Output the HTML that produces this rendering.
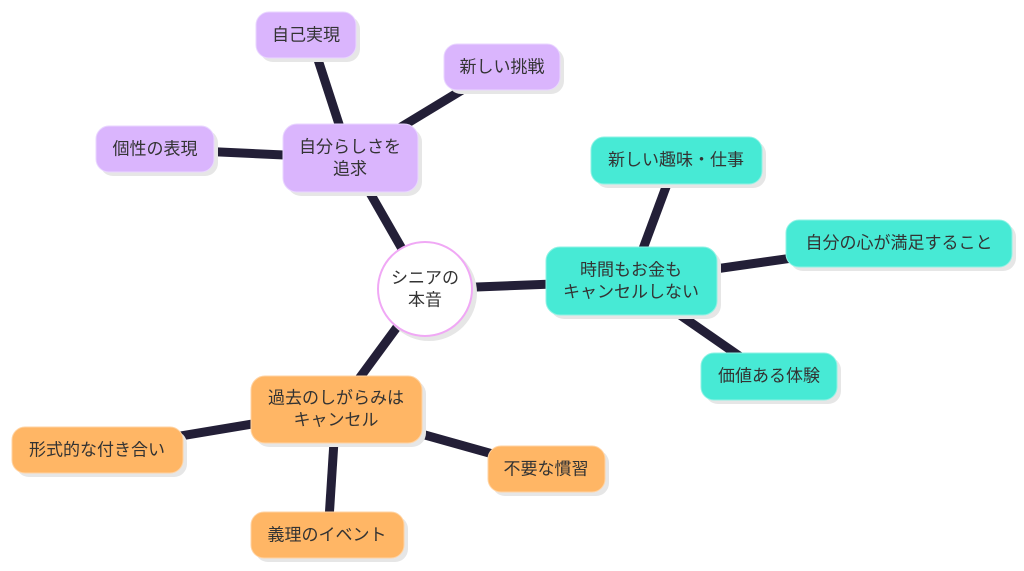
<!DOCTYPE html>
<html><head><meta charset="utf-8"><style>
html,body{margin:0;padding:0;background:#fff;}
svg{display:block}
text{font-family:"Liberation Sans","Noto Sans CJK JP",sans-serif;font-size:17px;fill:#333;text-anchor:middle;dominant-baseline:central}
</style></head><body>
<svg width="1024" height="571" viewBox="0 0 1024 571">
<g stroke="#231f37" stroke-width="9" stroke-linecap="butt">
<line x1="425" y1="289" x2="350" y2="158"/>
<line x1="350" y1="158" x2="310" y2="35"/>
<line x1="350" y1="158" x2="500" y2="67"/>
<line x1="350" y1="158" x2="155" y2="149"/>
<line x1="425" y1="289" x2="631" y2="281"/>
<line x1="631" y1="281" x2="676" y2="160"/>
<line x1="631" y1="281" x2="898" y2="243"/>
<line x1="631" y1="281" x2="768" y2="376"/>
<line x1="425" y1="289" x2="336" y2="410"/>
<line x1="336" y1="410" x2="97" y2="450"/>
<line x1="336" y1="410" x2="546" y2="469"/>
<line x1="336" y1="410" x2="328" y2="535"/>
</g>
<g fill="#e6e6e6">
<rect x="287" y="128" width="135" height="68" rx="14"/>
<rect x="260" y="16" width="100" height="46" rx="13"/>
<rect x="448" y="48" width="116" height="46" rx="13"/>
<rect x="100" y="130" width="118" height="46" rx="13"/>
<rect x="550" y="251" width="171" height="68" rx="14"/>
<rect x="595" y="141" width="171" height="47" rx="13"/>
<rect x="790" y="224" width="226" height="47" rx="13"/>
<rect x="705" y="357" width="136" height="47" rx="13"/>
<rect x="255" y="380" width="171" height="67" rx="14"/>
<rect x="16" y="431" width="171" height="46" rx="13"/>
<rect x="492" y="450" width="117" height="46" rx="13"/>
<rect x="255" y="516" width="153" height="46" rx="13"/>
<circle cx="429" cy="293" r="48"/>
</g>
<g fill="#dab5fd" stroke="#e9d6ff" stroke-width="1">
<rect x="283" y="124" width="135" height="68" rx="14"/>
<rect x="256" y="12" width="100" height="46" rx="13"/>
<rect x="444" y="44" width="116" height="46" rx="13"/>
<rect x="96" y="126" width="118" height="46" rx="13"/>
</g>
<g fill="#47ead5" stroke="#8ff2e4" stroke-width="1">
<rect x="546" y="247" width="171" height="68" rx="14"/>
<rect x="591" y="137" width="171" height="47" rx="13"/>
<rect x="786" y="220" width="226" height="47" rx="13"/>
<rect x="701" y="353" width="136" height="47" rx="13"/>
</g>
<g fill="#ffb665" stroke="#ffd3a3" stroke-width="1">
<rect x="251" y="376" width="171" height="67" rx="14"/>
<rect x="12" y="427" width="171" height="46" rx="13"/>
<rect x="488" y="446" width="117" height="46" rx="13"/>
<rect x="251" y="512" width="153" height="46" rx="13"/>
</g>
<circle cx="425" cy="289" r="47" fill="#fff" stroke="#f0a8f5" stroke-width="2"/>
<text x="425" y="278">シニアの</text>
<text x="425" y="300">本音</text>
<text x="350" y="147">自分らしさを</text>
<text x="350" y="169">追求</text>
<text x="306" y="35">自己実現</text>
<text x="502" y="67">新しい挑戦</text>
<text x="155" y="149">個性の表現</text>
<text x="631" y="270">時間もお金も</text>
<text x="631" y="292">キャンセルしない</text>
<text x="676" y="160">新しい趣味・仕事</text>
<text x="899" y="243">自分の心が満足すること</text>
<text x="769" y="376">価値ある体験</text>
<text x="336" y="398">過去のしがらみは</text>
<text x="336" y="420">キャンセル</text>
<text x="97" y="450">形式的な付き合い</text>
<text x="546" y="469">不要な慣習</text>
<text x="327" y="535">義理のイベント</text>
</svg>
</body></html>
